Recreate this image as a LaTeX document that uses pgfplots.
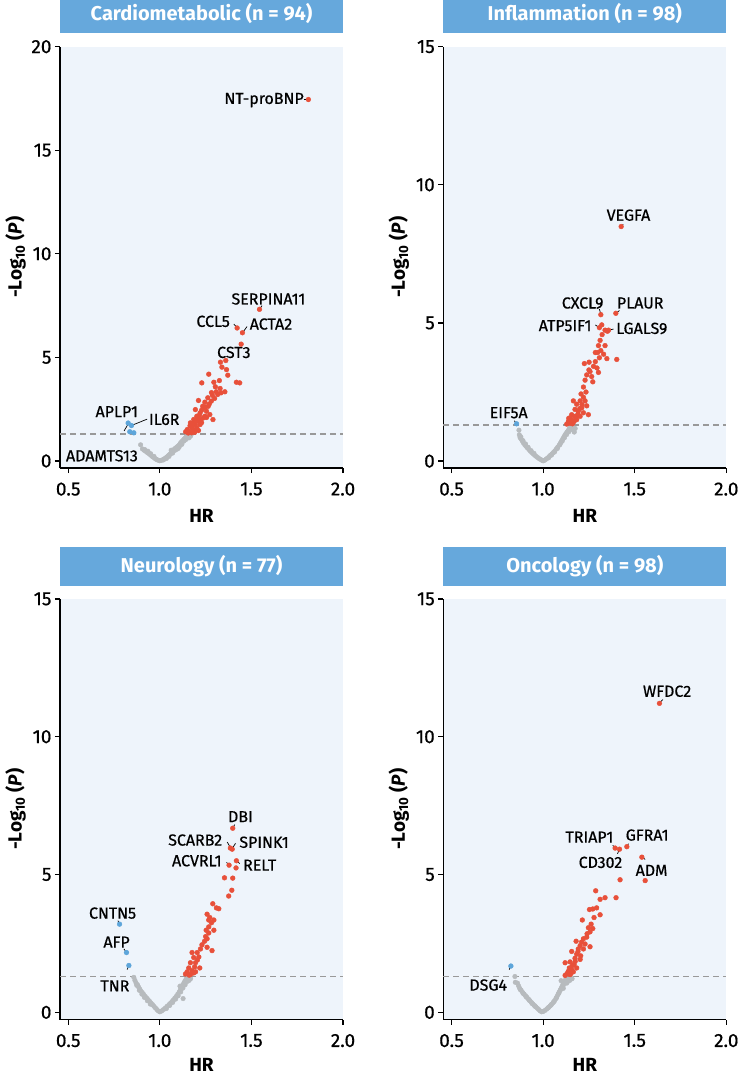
\documentclass[border=0pt]{standalone}
\usepackage{fontspec}
\setmainfont{Fira Sans}
\newfontfamily\medfont{Fira Sans}[FakeBold=0.6]
\usepackage{pgfplots}
\pgfplotsset{compat=1.18}

\definecolor{titleblue}{HTML}{66A8DC}
\definecolor{bgblue}{HTML}{EEF4FB}
\definecolor{sigred}{HTML}{E8503A}
\definecolor{sigblue}{HTML}{5DA5DA}
\definecolor{nsgray}{HTML}{B7BBBE}
\definecolor{dashgray}{HTML}{999999}

\tikzset{
  lbl/.style={font=\medfont\fontsize{16}{16}\selectfont, text=black, inner sep=0pt},
  ldr/.style={black, line width=0.7pt},
}

\pgfplotsset{
  volcano/.style={
    scale only axis, width=283pt,
    xmin=0.455, xmax=2.0,
    xtick={0.5,1.0,1.5,2.0},
    xticklabel style={yshift=-6pt, /pgf/number format/fixed,
      /pgf/number format/fixed zerofill, /pgf/number format/precision=1},
    /pgf/number format/assume math mode=true,
    axis x line*=bottom, axis y line*=left,
    axis line style={black, line width=1.2pt},
    tick style={black, line width=1.2pt},
    tick align=outside, major tick length=5pt,
    ticklabel style={font=\medfont\fontsize{19}{19}\selectfont},
    axis background/.style={fill=bgblue},
    xlabel={\bfseries HR},
    ylabel={\bfseries -Log\textsubscript{10} (\textbf{\textit{P}})},
    label style={font=\fontsize{19}{19}\selectfont},
    ylabel style={at={(axis description cs:-0.157,0.5)}, anchor=center},
    title style={at={(0.5,1)}, anchor=south, yshift=7pt, fill=titleblue, text=white,
      minimum width=283pt, minimum height=39pt, inner sep=0pt,
      font=\bfseries\fontsize{20}{20}\selectfont},
    clip=false,
  },
  gpt/.style={only marks, mark=*, mark size=2.3pt, color=nsgray},
  rpt/.style={only marks, mark=*, mark size=2.4pt, color=sigred},
  bpt/.style={only marks, mark=*, mark size=2.4pt, color=sigblue},
  thr/.style={dashgray, line width=1.9pt, dash pattern=on 6pt off 4pt},
}

\begin{document}
\begin{tikzpicture}

% ---------------- Cardiometabolic ----------------
\begin{axis}[volcano, at={(60pt,-468pt)}, anchor=south west, height=421.3pt,
  ymin=-0.34, ymax=20, ytick={0,5,10,15,20},
  xlabel style={at={(axis description cs:0.5,0)}, anchor=center, yshift=-48pt},
  title={Cardiometabolic (n = 94)}]
\addplot[gpt] coordinates {
(0.895,0.78)(0.905,0.58)(0.914,0.52)(0.922,0.47)(0.930,0.42)(0.938,0.37)(0.945,0.32)
(0.952,0.27)(0.958,0.22)(0.965,0.18)(0.972,0.13)(0.978,0.09)(0.985,0.06)(0.992,0.03)
(1.000,0.01)(1.008,0.03)(1.016,0.06)(1.024,0.10)(1.032,0.15)(1.040,0.20)(1.046,0.25)
(1.052,0.30)(1.058,0.35)(1.064,0.40)(1.068,0.46)(1.074,0.52)(1.080,0.58)(1.086,0.62)
(1.092,0.66)(1.098,0.71)(1.104,0.75)(1.110,0.82)(1.114,0.88)(1.120,0.94)(1.126,0.99)
(1.132,1.05)(1.138,1.10)(1.143,1.15)(1.148,1.20)(1.155,1.24)(1.162,1.27)(1.170,1.24)
(1.158,1.18)(1.120,0.80)(1.100,0.60)(1.080,0.50)(1.062,0.52)
(0.918,0.55)(0.935,0.47)(0.950,0.35)(0.968,0.22)(1.020,0.05)(1.036,0.12)(1.050,0.22)
(1.070,0.38)(1.090,0.55)(1.106,0.68)(1.118,0.86)(1.130,0.95)(1.140,1.02)(1.150,1.10)
(1.160,1.12)(1.167,1.20)};
\addplot[thr] coordinates {(0.455,1.301) (2.0,1.301)};
\addplot[rpt] coordinates {
(1.811,17.45)(1.544,7.32)(1.422,6.42)(1.451,6.19)(1.444,5.64)
(1.331,4.77)(1.360,4.85)(1.339,4.53)(1.364,4.41)(1.371,4.14)(1.267,4.19)(1.229,3.77)
(1.295,3.80)(1.325,3.88)(1.418,3.80)(1.436,3.77)(1.303,3.58)(1.329,3.50)(1.308,3.34)
(1.355,3.34)(1.287,3.17)(1.262,3.05)(1.246,2.84)(1.211,2.92)(1.234,2.64)(1.194,2.48)
(1.290,2.00)(1.273,2.24)(1.255,2.40)(1.238,2.56)(1.220,2.32)(1.202,2.16)(1.185,2.00)
(1.238,2.08)(1.211,1.92)(1.167,1.84)(1.194,1.76)(1.220,1.76)(1.246,2.16)(1.176,1.60)
(1.202,1.60)(1.150,1.52)(1.159,1.44)(1.185,1.47)(1.211,1.47)(1.141,1.41)(1.173,1.36)
(1.264,2.64)(1.281,2.89)(1.299,3.02)(1.316,3.21)(1.334,3.29)
(1.165,1.70)(1.180,1.75)(1.190,1.90)(1.205,2.05)(1.215,2.20)(1.228,2.45)(1.155,1.35)
(1.190,1.38)(1.200,1.50)(1.228,1.85)(1.255,2.10)(1.248,2.60)(1.270,2.75)(1.282,3.30)
(1.225,2.00)};
\addplot[bpt] coordinates {(0.827,1.83)(0.845,1.71)(0.836,1.41)(0.858,1.36)};
\node[lbl, anchor=east] at (axis cs:1.787,17.42) {NT-proBNP};
\draw[ldr] (axis cs:1.787,17.45) -- (axis cs:1.80,17.45);
\node[lbl] at (axis cs:1.593,7.82) {SERPINA11};
\draw[ldr] (axis cs:1.558,7.50) -- (axis cs:1.547,7.36);
\node[lbl] at (axis cs:1.291,6.74) {CCL5};
\draw[ldr] (axis cs:1.404,6.61) -- (axis cs:1.418,6.47);
\node[lbl] at (axis cs:1.607,6.61) {ACTA2};
\draw[ldr] (axis cs:1.476,6.49) -- (axis cs:1.456,6.24);
\node[lbl] at (axis cs:1.404,5.24) {CST3};
\node[lbl] at (axis cs:0.765,2.38) {APLP1};
\draw[ldr] (axis cs:0.828,1.80) -- (axis cs:0.805,1.45);
\node[lbl] at (axis cs:1.024,2.00) {IL6R};
\draw[ldr] (axis cs:0.931,2.02) -- (axis cs:0.850,1.73);
\node[lbl] at (axis cs:0.684,0.25) {ADAMTS13};
\end{axis}

% ---------------- Inflammation ----------------
\begin{axis}[volcano, at={(443.3pt,-468pt)}, anchor=south west, height=421.3pt,
  ymin=-0.25, ymax=15, ytick={0,5,10,15},
  xlabel style={at={(axis description cs:0.5,0)}, anchor=center, yshift=-48pt},
  title={Inflammation (n = 98)}]
\addplot[gpt] coordinates {
(0.868,1.12)(0.870,0.95)(0.874,0.85)(0.880,0.80)(0.886,0.73)(0.892,0.66)(0.899,0.60)
(0.906,0.54)(0.914,0.48)(0.922,0.42)(0.930,0.36)(0.938,0.31)(0.946,0.26)(0.954,0.21)
(0.962,0.17)(0.970,0.13)(0.978,0.09)(0.986,0.06)(0.994,0.03)(1.000,0.01)(1.008,0.03)
(1.016,0.07)(1.024,0.11)(1.032,0.16)(1.040,0.21)(1.048,0.26)(1.056,0.31)(1.064,0.37)
(1.072,0.44)(1.080,0.51)(1.088,0.58)(1.094,0.65)(1.100,0.72)(1.106,0.79)(1.112,0.86)
(1.118,0.93)(1.124,0.99)(1.130,1.05)(1.136,1.10)(1.142,1.16)(1.148,1.22)(1.156,1.25)
(1.165,1.22)(1.175,1.18)(1.170,1.05)
(0.878,0.88)(0.890,0.74)(0.904,0.62)(0.918,0.50)(0.934,0.38)(0.950,0.28)(1.030,0.12)
(1.046,0.22)(1.062,0.33)(1.078,0.46)(1.092,0.60)(1.104,0.72)(1.116,0.84)(1.128,0.96)
(1.140,1.06)(1.152,1.14)(1.160,1.18)};
\addplot[thr] coordinates {(0.455,1.301) (2.0,1.301)};
\addplot[rpt] coordinates {
(1.426,8.49)(1.315,5.30)(1.397,5.35)(1.307,4.83)(1.357,4.74)(1.338,4.74)
(1.402,3.68)(1.338,4.18)(1.302,4.18)(1.298,3.93)(1.285,3.93)(1.330,3.87)(1.348,3.71)
(1.307,3.74)(1.225,3.53)(1.251,3.58)(1.275,3.43)(1.294,3.37)(1.256,3.24)(1.302,3.21)
(1.238,3.12)(1.265,3.06)(1.229,2.93)(1.271,2.87)(1.220,2.68)(1.234,2.50)(1.207,2.43)
(1.220,2.31)(1.202,2.18)(1.229,2.18)(1.165,2.18)(1.183,2.06)(1.238,2.00)(1.211,1.93)
(1.174,1.87)(1.192,1.81)(1.247,1.68)(1.156,1.68)(1.174,1.62)(1.147,1.56)(1.202,1.62)
(1.138,1.44)(1.165,1.41)(1.129,1.34)(1.183,1.50)(1.147,1.37)(1.220,1.75)(1.322,4.58)
(1.311,4.37)(1.351,4.70)(1.320,4.93)(1.156,1.50)(1.170,1.45)(1.190,1.70)(1.200,1.90)
(1.212,2.05)(1.140,1.55)(1.160,1.35)(1.180,1.60)(1.250,3.30)(1.285,3.60)(1.315,4.00)};
\addplot[bpt] coordinates {(0.855,1.35)};
\node[lbl] at (axis cs:1.466,8.90) {VEGFA};
\draw[ldr] (axis cs:1.437,8.57) -- (axis cs:1.429,8.50);
\node[lbl] at (axis cs:1.216,5.72) {CXCL9};
\draw[ldr] (axis cs:1.307,5.50) -- (axis cs:1.314,5.34);
\node[lbl] at (axis cs:1.530,5.72) {PLAUR};
\draw[ldr] (axis cs:1.417,5.45) -- (axis cs:1.400,5.37);
\node[lbl] at (axis cs:1.120,4.90) {ATP5IF1};
\draw[ldr] (axis cs:1.285,4.93) -- (axis cs:1.304,4.84);
\node[lbl] at (axis cs:1.539,4.80) {LGALS9};
\draw[ldr] (axis cs:1.384,4.78) -- (axis cs:1.360,4.74);
\node[lbl] at (axis cs:0.812,1.75) {EIF5A};
\draw[ldr] (axis cs:0.843,1.46) -- (axis cs:0.852,1.37);
\end{axis}

% ---------------- Neurology ----------------
\begin{axis}[volcano, at={(60pt,-1019.5pt)}, anchor=south west, height=420.6pt,
  ymin=-0.26, ymax=15, ytick={0,5,10,15},
  xlabel style={at={(axis description cs:0.5,0)}, anchor=center, yshift=-45pt},
  title={Neurology (n = 77)}]
\addplot[gpt] coordinates {
(0.858,1.27)(0.864,1.16)(0.870,1.07)(0.878,1.00)(0.884,0.92)(0.890,0.85)(0.896,0.78)
(0.904,0.72)(0.912,0.65)(0.920,0.58)(0.928,0.52)(0.936,0.46)(0.944,0.40)(0.952,0.34)
(0.960,0.28)(0.968,0.22)(0.976,0.16)(0.984,0.10)(0.992,0.05)(1.000,0.02)(1.010,0.05)
(1.020,0.10)(1.030,0.16)(1.040,0.22)(1.050,0.28)(1.058,0.33)(1.066,0.39)(1.074,0.45)
(1.082,0.52)(1.090,0.58)(1.098,0.66)(1.106,0.74)(1.112,0.82)(1.118,0.90)(1.124,0.98)
(1.130,1.05)(1.136,1.12)(1.142,1.19)(1.148,1.25)(1.158,1.27)(1.168,1.22)(1.127,0.50)
(1.110,0.95)
(0.874,0.98)(0.888,0.80)(0.902,0.66)(0.916,0.54)(0.932,0.42)(0.948,0.30)(1.036,0.14)
(1.054,0.25)(1.070,0.36)(1.086,0.48)(1.100,0.60)(1.114,0.74)(1.126,0.88)(1.138,1.00)
(1.150,1.12)(1.160,1.16)};
\addplot[thr] coordinates {(0.455,1.301) (2.0,1.301)};
\addplot[rpt] coordinates {
(1.398,6.68)(1.385,5.96)(1.395,5.92)(1.378,5.34)(1.418,5.50)(1.416,5.24)
(1.353,4.88)(1.398,4.87)(1.393,4.43)(1.376,4.22)(1.289,3.94)(1.309,3.79)(1.322,3.76)
(1.258,3.56)(1.273,3.44)(1.267,3.35)(1.295,3.35)(1.282,3.25)(1.267,3.10)(1.295,2.98)
(1.253,2.98)(1.267,2.88)(1.258,2.67)(1.244,2.58)(1.285,2.24)(1.258,2.36)(1.222,2.30)
(1.204,2.17)(1.176,2.17)(1.185,1.99)(1.213,2.01)(1.167,1.80)(1.195,1.80)(1.218,1.61)
(1.158,1.61)(1.176,1.51)(1.149,1.47)(1.195,1.47)(1.167,1.37)(1.140,1.39)(1.185,1.43)
(1.205,1.90)(1.230,2.45)(1.250,2.75)(1.190,1.65)(1.160,1.35)};
\addplot[bpt] coordinates {(0.780,3.20)(0.818,2.17)(0.831,1.70)};
\node[lbl] at (axis cs:1.440,7.10) {DBI};
\draw[ldr] (axis cs:1.409,6.81) -- (axis cs:1.400,6.72);
\node[lbl] at (axis cs:1.193,6.25) {SCARB2};
\draw[ldr] (axis cs:1.368,6.18) -- (axis cs:1.384,5.99);
\node[lbl] at (axis cs:1.569,6.17) {SPINK1};
\draw[ldr] (axis cs:1.413,6.13) -- (axis cs:1.396,5.95);
\node[lbl] at (axis cs:1.202,5.50) {ACVRL1};
\draw[ldr] (axis cs:1.364,5.44) -- (axis cs:1.376,5.36);
\node[lbl] at (axis cs:1.545,5.34) {RELT};
\draw[ldr] (axis cs:1.436,5.40) -- (axis cs:1.421,5.48);
\node[lbl] at (axis cs:0.742,3.60) {CNTN5};
\draw[ldr] (axis cs:0.771,3.33) -- (axis cs:0.779,3.22);
\node[lbl] at (axis cs:0.764,2.55) {AFP};
\draw[ldr] (axis cs:0.804,2.30) -- (axis cs:0.816,2.19);
\node[lbl] at (axis cs:0.755,0.96) {TNR};
\draw[ldr] (axis cs:0.822,1.55) -- (axis cs:0.829,1.68);
\end{axis}

% ---------------- Oncology ----------------
\begin{axis}[volcano, at={(443.3pt,-1019.5pt)}, anchor=south west, height=420.6pt,
  ymin=-0.26, ymax=15, ytick={0,5,10,15},
  xlabel style={at={(axis description cs:0.5,0)}, anchor=center, yshift=-45pt},
  title={Oncology (n = 98)}]
\addplot[gpt] coordinates {
(0.846,1.30)(0.848,1.09)(0.860,1.06)(0.866,0.96)(0.872,0.87)(0.880,0.80)(0.888,0.72)
(0.896,0.66)(0.904,0.60)(0.912,0.54)(0.920,0.48)(0.928,0.42)(0.936,0.36)(0.944,0.30)
(0.952,0.25)(0.960,0.20)(0.968,0.15)(0.976,0.10)(0.984,0.05)(0.992,0.02)(1.000,0.03)
(1.010,0.07)(1.020,0.12)(1.030,0.18)(1.038,0.23)(1.046,0.29)(1.054,0.35)(1.062,0.42)
(1.070,0.50)(1.076,0.58)(1.082,0.66)(1.088,0.74)(1.094,0.82)(1.100,0.90)(1.106,0.98)
(1.110,1.05)(1.116,1.12)(1.122,1.18)(1.130,1.22)(1.140,1.20)(1.150,1.24)(1.158,1.22)
(1.110,0.87)(1.129,1.06)(1.098,1.15)
(0.876,0.82)(0.892,0.68)(0.908,0.56)(0.924,0.44)(0.940,0.32)(0.956,0.22)(1.026,0.16)
(1.042,0.26)(1.058,0.38)(1.072,0.52)(1.086,0.70)(1.098,0.84)(1.110,0.98)(1.120,1.08)
(1.134,1.12)(1.146,1.16)};
\addplot[thr] coordinates {(0.455,1.301) (2.0,1.301)};
\addplot[rpt] coordinates {
(1.635,11.21)(1.393,5.96)(1.417,5.92)(1.457,6.01)(1.539,5.63)(1.557,4.78)
(1.420,4.81)(1.287,4.41)(1.311,4.10)(1.338,4.16)(1.398,4.16)(1.253,3.73)(1.271,3.75)
(1.292,3.79)(1.311,3.54)(1.278,3.44)(1.214,3.35)(1.247,3.07)(1.271,3.04)(1.256,2.92)
(1.238,2.73)(1.220,2.67)(1.180,2.58)(1.202,2.42)(1.256,2.38)(1.192,2.30)(1.220,2.30)
(1.156,2.21)(1.183,2.11)(1.205,2.05)(1.174,1.96)(1.120,1.80)(1.147,1.83)(1.169,1.74)
(1.143,1.61)(1.156,1.55)(1.138,1.49)(1.129,1.39)(1.165,1.47)(1.120,1.34)(1.147,1.37)
(1.183,1.61)(1.202,1.92)(1.229,2.48)(1.160,1.70)(1.175,1.85)(1.190,2.20)(1.135,1.45)
(1.150,1.40)(1.210,2.55)(1.240,2.85)(1.262,3.20)};
\addplot[bpt] coordinates {(0.824,1.68)};
\node[lbl] at (axis cs:1.677,11.65) {WFDC2};
\draw[ldr] (axis cs:1.653,11.35) -- (axis cs:1.638,11.24);
\node[lbl] at (axis cs:1.253,6.36) {TRIAP1};
\draw[ldr] (axis cs:1.380,6.06) -- (axis cs:1.392,5.98);
\node[lbl] at (axis cs:1.568,6.43) {GFRA1};
\draw[ldr] (axis cs:1.466,6.12) -- (axis cs:1.459,6.03);
\node[lbl] at (axis cs:1.313,5.44) {CD302};
\draw[ldr] (axis cs:1.406,5.75) -- (axis cs:1.414,5.88);
\node[lbl] at (axis cs:1.592,5.15) {ADM};
\draw[ldr] (axis cs:1.557,5.55) -- (axis cs:1.542,5.62);
\node[lbl] at (axis cs:0.700,0.99) {DSG4};
\draw[ldr] (axis cs:0.815,1.55) -- (axis cs:0.822,1.66);
\end{axis}

\pgfresetboundingbox
\path[use as bounding box] (0pt,0pt) rectangle (739pt,-1078pt);
\end{tikzpicture}
\end{document}
